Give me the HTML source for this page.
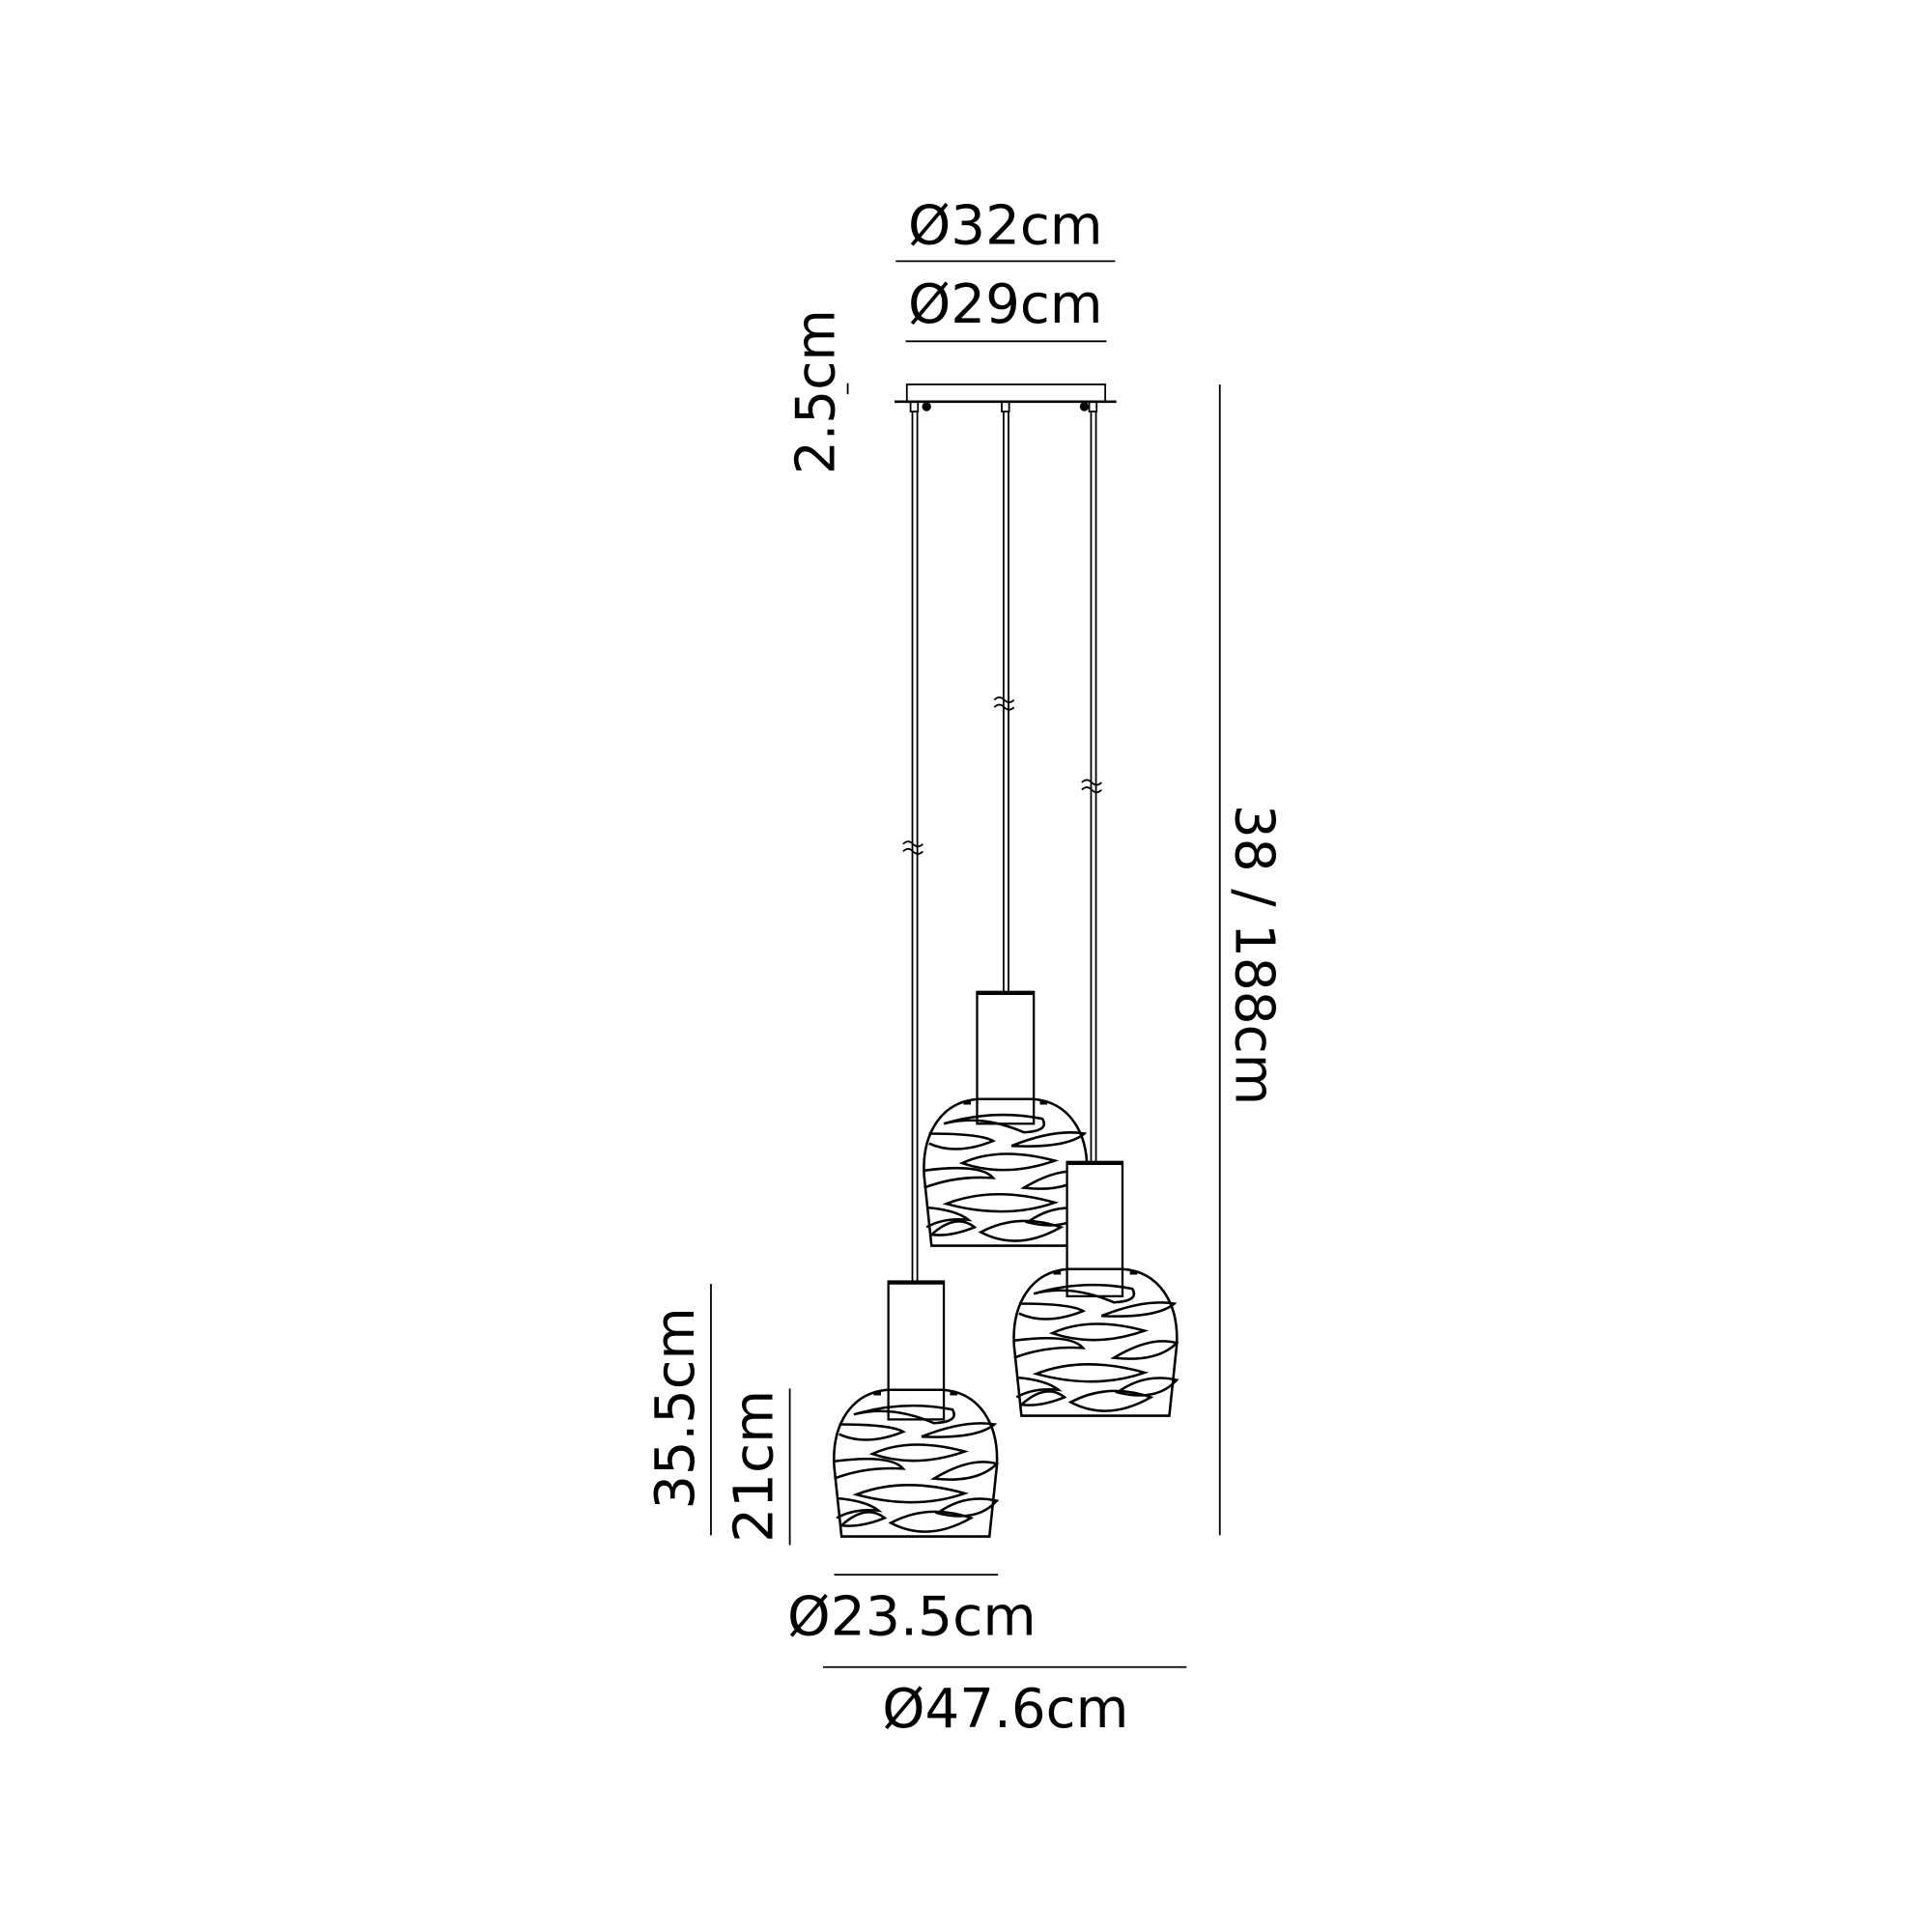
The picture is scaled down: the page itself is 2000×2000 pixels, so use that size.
<!DOCTYPE html>
<html><head><meta charset="utf-8"><style>
html,body{margin:0;padding:0;background:#fff;}
svg{display:block;}
text{font-family:"DejaVu Sans","Liberation Sans",sans-serif;fill:#000;}
</style></head><body>
<svg width="2000" height="2000" viewBox="0 0 1568 1568" xmlns="http://www.w3.org/2000/svg">
<defs>
<g id="shade" fill="none" stroke="#000" stroke-width="2">
<path d="M-60,119 L-66,62 C-68,28 -52,2 -22,0 L22,0 C52,2 68,28 66,62 L60,119 Z" fill="none"/>
<path d="M-34,3 h6 M28,3 h6" stroke-width="3"/>
<path d="M-50,20 Q-10,8 30,16 Q36,26 15,27 Q-20,12 -50,20 Z"/>
<path d="M-62,28 Q-20,28 -10,34 Q-40,46 -62,36"/>
<path d="M5,38 Q40,24 64,28 Q50,40 5,38 Z"/>
<path d="M-35,52 Q-5,38 40,50 Q0,64 -35,52 Z"/>
<path d="M-66,58 Q-20,52 -10,64 Q-40,62 -66,72"/>
<path d="M15,72 Q45,54 66,60 Q50,76 15,72 Z"/>
<path d="M-48,85 Q-10,70 40,84 Q0,98 -48,85 Z"/>
<path d="M-64,88 Q-40,90 -30,98 Q-50,96 -64,104"/>
<path d="M18,100 Q40,84 66,90 Q50,108 18,100 Z"/>
<path d="M-60,110 Q-40,92 -25,104 Q-45,112 -60,110"/>
<path d="M-20,108 Q10,92 45,104 Q10,124 -20,108 Z"/>
</g>
</defs>
<g stroke="#000" stroke-width="1.4" fill="none">
<line x1="727" y1="212" x2="905" y2="212"/>
<line x1="735" y1="277" x2="898" y2="277"/>
<rect x="736" y="312" width="161" height="14"/>
<line x1="726" y1="326" x2="906" y2="326" stroke-width="2"/>
<rect x="739" y="326" width="6" height="8"/><rect x="813" y="326" width="6" height="8"/><rect x="884" y="326" width="6" height="8"/>
<circle cx="752" cy="330" r="3" fill="#000"/><circle cx="880" cy="330" r="3" fill="#000"/>
<line x1="740.5" y1="334" x2="740.5" y2="1040"/><line x1="744.5" y1="334" x2="744.5" y2="1040"/>
<line x1="814.5" y1="334" x2="814.5" y2="805"/><line x1="818.5" y1="334" x2="818.5" y2="805"/>
<line x1="885.5" y1="334" x2="885.5" y2="943"/><line x1="889.5" y1="334" x2="889.5" y2="943"/>
<path d="M733,685 q4,-4 8,0 t8,0 M733,691 q4,-4 8,0 t8,0"/>
<path d="M807,568 q4,-4 8,0 t8,0 M807,574 q4,-4 8,0 t8,0"/>
<path d="M878,635 q4,-4 8,0 t8,0 M878,641 q4,-4 8,0 t8,0"/>
<line x1="990" y1="312" x2="990" y2="1246"/>
<line x1="577" y1="1042" x2="577" y2="1246"/>
<line x1="641" y1="1127" x2="641" y2="1254"/>
<line x1="677" y1="1278" x2="810" y2="1278"/>
<line x1="668" y1="1353" x2="963" y2="1353"/>
<line x1="688" y1="311" x2="688" y2="320"/>
</g>
<!-- middle pendant -->
<rect x="793" y="805" width="46" height="107" fill="#fff" stroke="#000" stroke-width="1.8"/>
<line x1="793" y1="806" x2="839" y2="806" stroke="#000" stroke-width="3"/>
<use href="#shade" x="816" y="892"/>
<!-- right pendant -->
<rect x="866" y="943" width="45" height="109" fill="#fff" stroke="#000" stroke-width="1.8"/>
<line x1="866" y1="944" x2="911" y2="944" stroke="#000" stroke-width="3"/>
<use href="#shade" x="889" y="1030"/>
<!-- left pendant -->
<rect x="721" y="1040" width="45" height="112" fill="#fff" stroke="#000" stroke-width="1.8"/>
<line x1="721" y1="1041" x2="766" y2="1041" stroke="#000" stroke-width="3"/>
<use href="#shade" x="743" y="1128"/>
<!-- text -->
<text x="816" y="198" font-size="44" text-anchor="middle" textLength="158" lengthAdjust="spacingAndGlyphs">Ø32cm</text>
<text x="816" y="262" font-size="44" text-anchor="middle" textLength="158" lengthAdjust="spacingAndGlyphs">Ø29cm</text>
<text x="740" y="1327" font-size="44" text-anchor="middle" textLength="202" lengthAdjust="spacingAndGlyphs">Ø23.5cm</text>
<text x="816" y="1402" font-size="44" text-anchor="middle" textLength="200" lengthAdjust="spacingAndGlyphs">Ø47.6cm</text>
<text transform="translate(677,318) rotate(-90)" font-size="44" text-anchor="middle" textLength="134" lengthAdjust="spacingAndGlyphs">2.5cm</text>
<text transform="translate(563,1143) rotate(-90)" font-size="44" text-anchor="middle" textLength="164" lengthAdjust="spacingAndGlyphs">35.5cm</text>
<text transform="translate(627,1190) rotate(-90)" font-size="44" text-anchor="middle" textLength="124" lengthAdjust="spacingAndGlyphs">21cm</text>
<text transform="translate(1003,775) rotate(90)" font-size="44" text-anchor="middle" textLength="244" lengthAdjust="spacingAndGlyphs">38 / 188cm</text>
</svg>
</body></html>
